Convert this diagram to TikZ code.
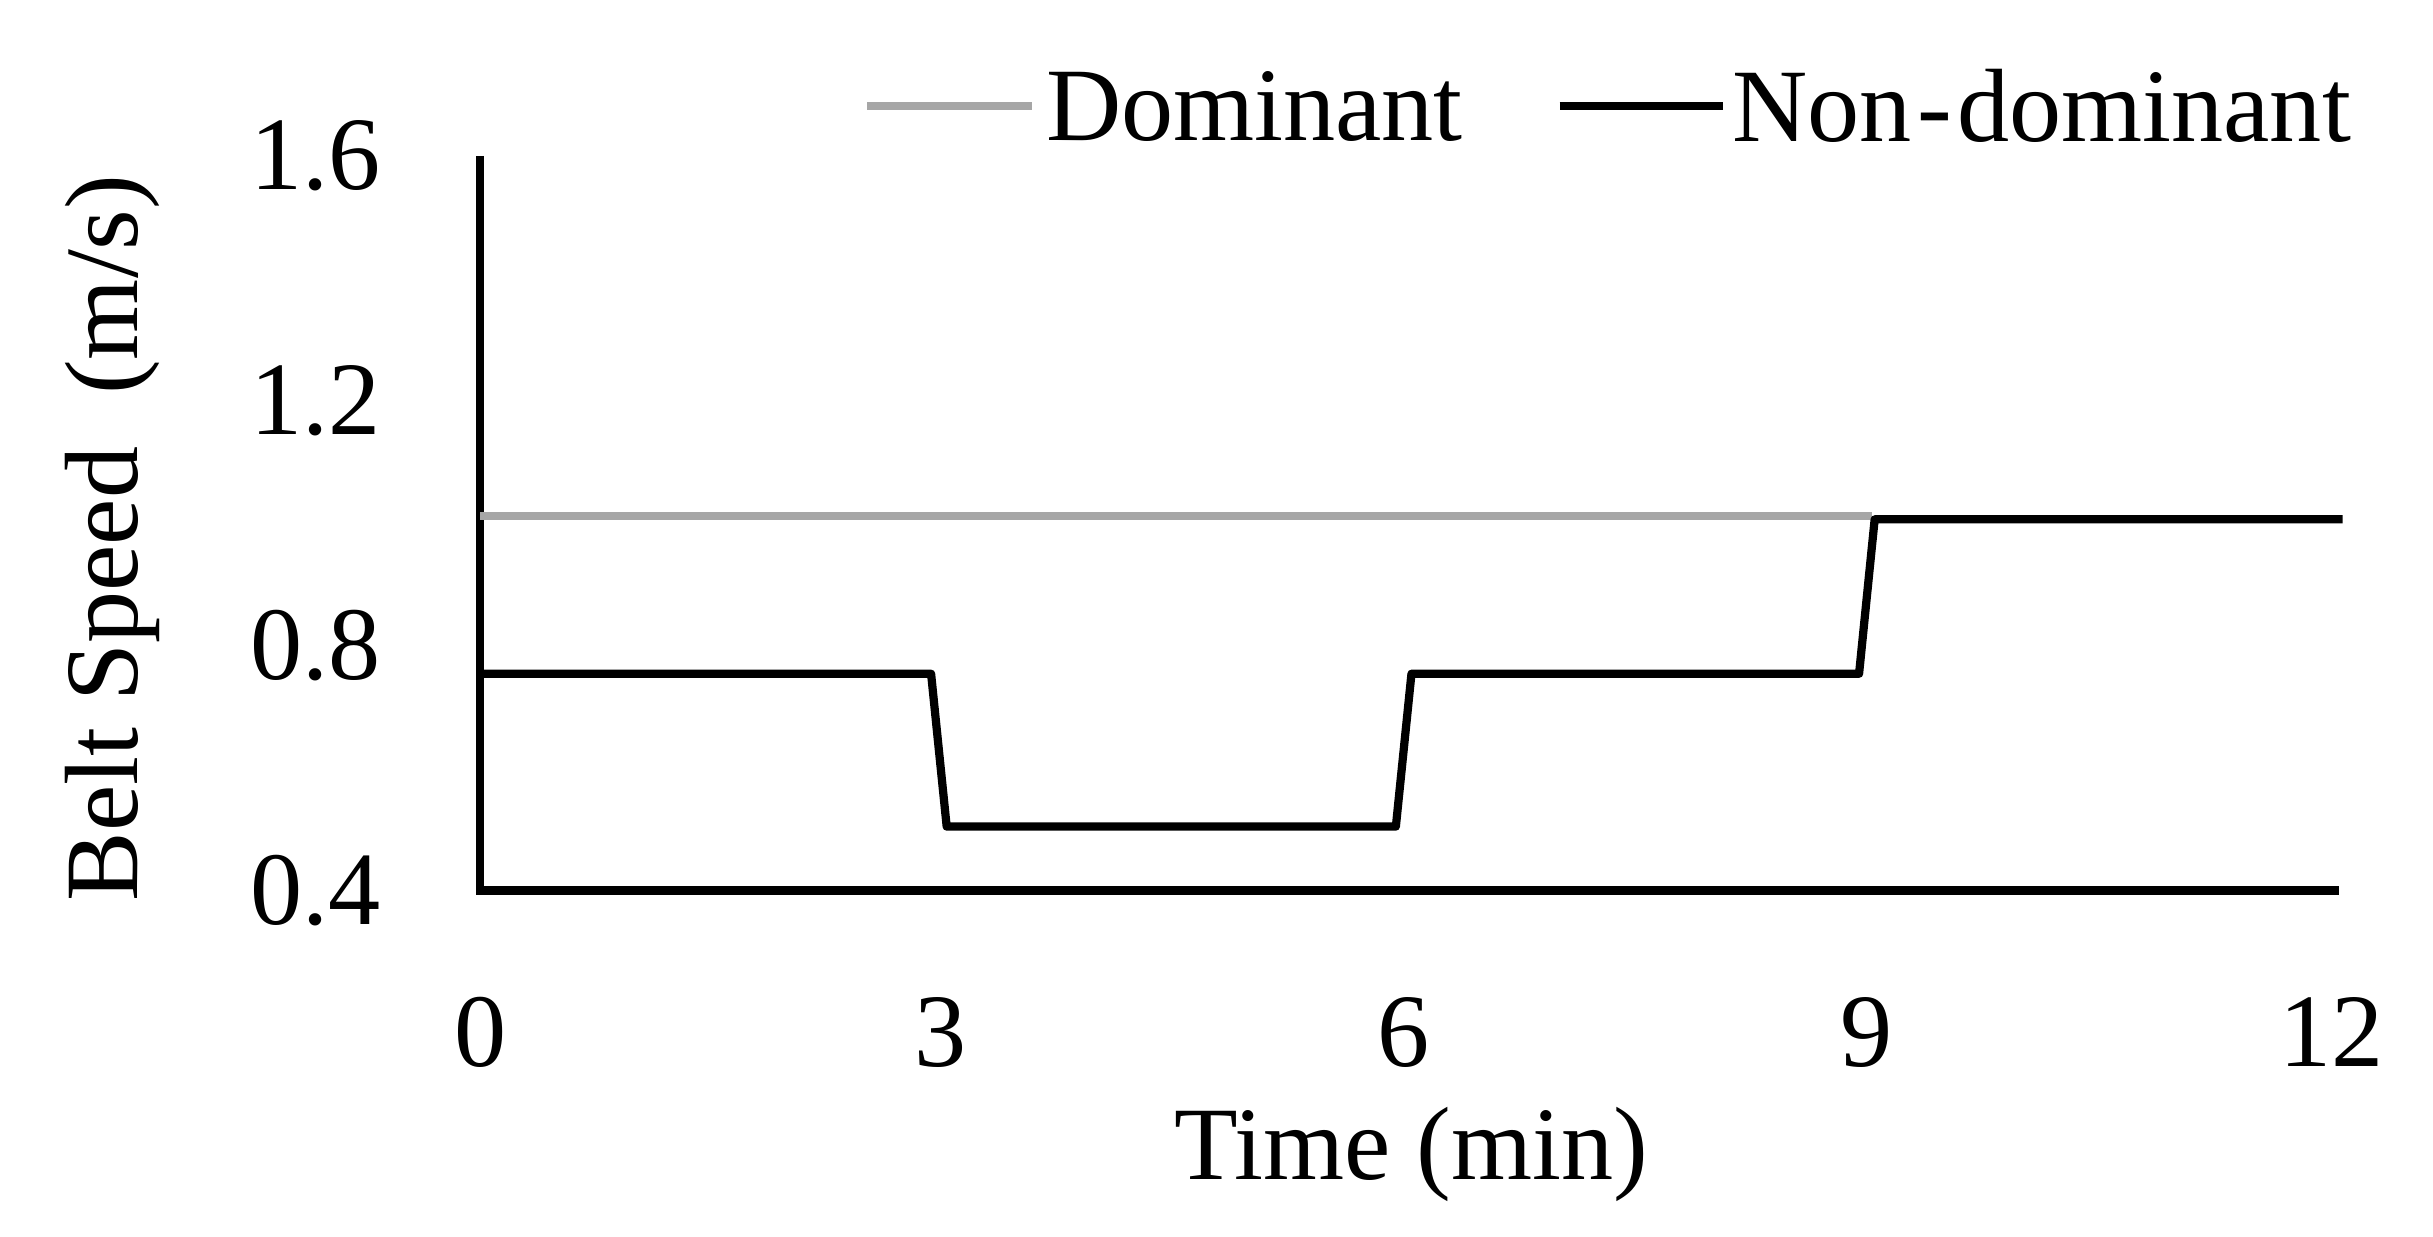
\documentclass[tikz,border=0pt]{standalone}
\usepackage{fontspec}
\setmainfont{Liberation Serif}
\begin{document}
\begin{tikzpicture}[x=0.01cm,y=0.01cm,
  lab/.style={font=\fontsize{19}{22}\selectfont, inner sep=0pt},
  ln/.style={line width=1.5pt}]
\useasboundingbox (0,0) rectangle (1560,793);
\coordinate (yt) at (308,693);
\coordinate (o) at (308,222);
\coordinate (xe) at (1500,222);
\draw[ln] (yt) -- (o) -- (xe);
\foreach \v/\py in {0.4/571,0.8/414,1.2/257,1.6/100}
  \node[lab,anchor=east] at (245,793-\py) {\v};
\foreach \t/\px in {0/308,3/603,6/900,9/1197,12/1495}
  \node[lab] at (\px,793-662) {\t};
\node[lab] (xl) at (905,793-740) {Time (min)};
\node[lab,rotate=90] (yl) at (72,793-345) {Belt Speed\ \ (m/s)};
\draw[ln,color={rgb,255:red,166;green,166;blue,166}] (308,793-331) -- (1200,793-331);
\draw[ln,line join=round] (308,793-432) -- (597,793-432) -- (607,793-530) -- (895,793-530) -- (905,793-432) -- (1192,793-432) -- (1202,793-333) -- (1502,793-333);
\draw[ln,color={rgb,255:red,166;green,166;blue,166}] (556,793-68) -- (662,793-68);
\node[lab,anchor=west] (ld) at (670,793-68) {Dominant};
\draw[ln] (1000,793-68) -- (1105,793-68);
\node[lab,anchor=west] (ln2) at (1110,793-68) {Non\kern1pt-\kern1ptdominant};
\end{tikzpicture}
\end{document}
